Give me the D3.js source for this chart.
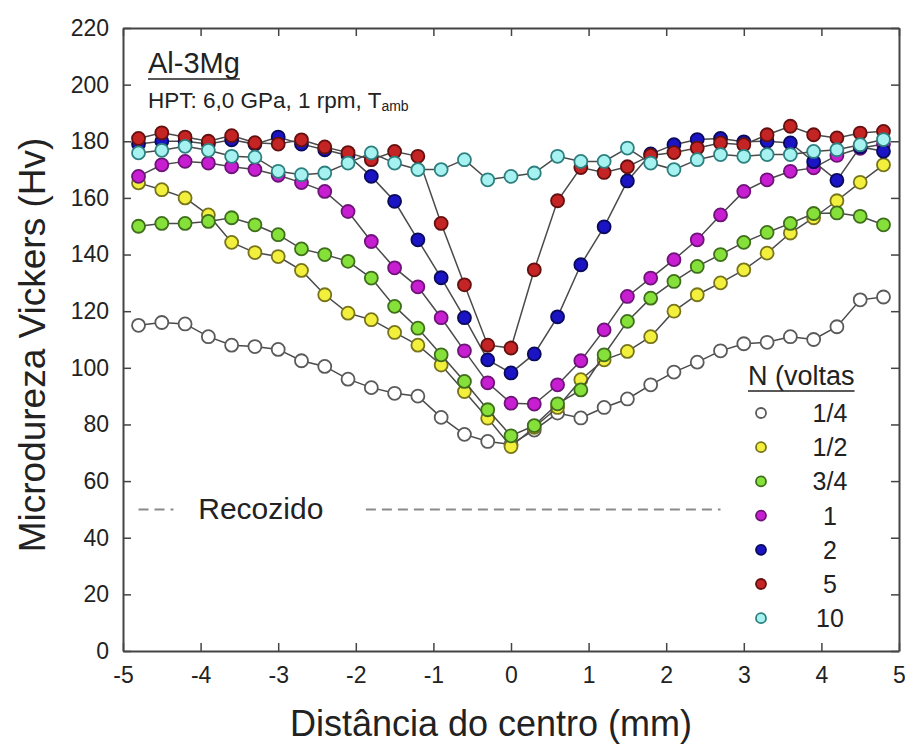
<!DOCTYPE html>
<html>
<head>
<meta charset="utf-8">
<script src="https://cdn.jsdelivr.net/npm/d3@7"></script>
<style>
  body { margin: 0; background: #fff; }
  text { font-family: "Liberation Sans", Arial, sans-serif; fill: #222; }
</style>
</head>
<body>
<div class="chart"></div>
<script>
// distances (mm) where hardness was measured
var distances = [-4.8, -4.5, -4.2, -3.9, -3.6, -3.3, -3.0, -2.7, -2.4, -2.1, -1.8, -1.5, -1.2, -0.9, -0.6, -0.3,
  0, 0.3, 0.6, 0.9, 1.2, 1.5, 1.8, 2.1, 2.4, 2.7, 3.0, 3.3, 3.6, 3.9, 4.2, 4.5, 4.8];

var hv_1_4 = [115, 116, 115.5, 111, 108, 107.5, 106.5, 102.5, 100.5, 96, 93, 91, 90, 82.5, 76.5, 74,
  73, 78, 84, 82.3, 86, 89, 94, 98.5, 102, 106, 108.5, 109, 111, 110, 114.5, 124, 125];
var hv_1_2 = [165.3, 162.9, 160, 154, 144.3, 140.7, 139.3, 134.4, 125.8, 119.3, 117, 112.5, 108, 101, 91.6, 82.2,
  72.2, 79, 86, 95.8, 102.8, 105.8, 111, 120, 125.8, 130, 134.6, 140.5, 147.6, 153, 159, 165.5, 171.7];
var hv_3_4 = [150, 151, 151, 151.7, 153, 150.5, 147, 142, 140, 137.6, 131.7, 121.7, 114, 104.6, 95.2, 85.2,
  76, 79.6, 87.3, 92.2, 104.6, 116.4, 124.6, 130.5, 135.8, 140, 144.3, 147.8, 151, 154.5, 154.7, 153.5, 150.5];
var hv_1 = [167.6, 171.7, 172.9, 172.3, 171, 170, 168, 165.4, 162.3, 155.2, 144.6, 135.3, 128.6, 117.7, 106, 94.7,
  87.5, 87.2, 94, 102.5, 113.4, 125.2, 131.7, 138.2, 145.2, 154, 162.3, 166.4, 169.4, 170.6, 175, 177.5, 179];
var hv_2 = [179, 180, 180, 179, 180.5, 179, 181.5, 179, 177, 175, 167.6, 158.8, 145.2, 131.8, 117.7, 102.8,
  98.2, 104.9, 118, 136.4, 149.8, 166, 175.5, 178.8, 180.6, 181, 179.8, 180, 179.4, 172.8, 166.2, 178, 176.5];
var hv_5 = [181, 183, 181.5, 180, 182, 179.5, 179, 180.5, 178, 176, 173.5, 176.4, 174.7, 151, 129.3, 108,
  107, 134.6, 159, 170.7, 169, 171, 175, 176, 177.6, 179.4, 178.8, 182.3, 185.3, 182.3, 181.2, 182.9, 183.5];
var hv_10 = [175.9, 176.8, 178.2, 176.8, 174.7, 174.4, 169.4, 168.2, 168.8, 172.3, 175.9, 172.3, 170, 170, 173.5, 166.4,
  167.6, 168.8, 174.7, 172.9, 172.9, 177.6, 172.3, 170, 173.5, 175.3, 174.7, 175.3, 175.3, 176.4, 177, 178.8, 180.6];

var turnLabels = ["1/4", "1/2", "3/4", "1", "2", "5", "10"];
var fillColors = ["#ffffff", "#f2f03c", "#86e03a", "#c81ed2", "#1a14c4", "#c42424", "#a6f2f0"];
var edgeColors = ["#5a5a5a", "#77741c", "#3f6e1c", "#6e1478", "#0a0a5c", "#641010", "#2e8080"];
var annealed = 50;

var xTicks = [-5, -4, -3, -2, -1, 0, 1, 2, 3, 4, 5];
var yTicks = [0, 20, 40, 60, 80, 100, 120, 140, 160, 180, 200, 220];

var allSeries = [hv_1_4, hv_1_2, hv_3_4, hv_1, hv_2, hv_5, hv_10];

var svgWidth = 905;
var svgHeight = 751;
var margin = { top: 28, right: 6, bottom: 100, left: 123 };
var width = svgWidth - margin.left - margin.right;
var height = svgHeight - margin.top - margin.bottom;

var svg = d3.select(".chart")
  .append("svg")
  .attr("width", svgWidth)
  .attr("height", svgHeight);

var chart = svg.append("g")
  .attr("transform", "translate(" + margin.left + "," + margin.top + ")");

var xScale = d3.scaleLinear().domain([-5, 5]).range([0, width]);
var yScale = d3.scaleLinear().domain([0, 220]).range([height, 0]);

// plain hyphen for negatives, like the original
var plain = function(d) { return String(d); };

// axes with inward ticks on all four sides
var tickLen = 8;
chart.append("g")
  .attr("transform", "translate(0," + height + ")")
  .call(d3.axisBottom(xScale).tickValues(xTicks).tickFormat(plain).tickSizeInner(-tickLen).tickSizeOuter(0).tickPadding(16))
  .call(function(g) { g.selectAll("text").attr("font-size", "23px"); });
chart.append("g")
  .call(d3.axisTop(xScale).tickValues(xTicks).tickSizeInner(-tickLen).tickSizeOuter(0).tickFormat(""));
chart.append("g")
  .call(d3.axisLeft(yScale).tickValues(yTicks).tickFormat(plain).tickSizeInner(-tickLen).tickSizeOuter(0).tickPadding(14))
  .call(function(g) { g.selectAll("text").attr("font-size", "23px"); });
chart.append("g")
  .attr("transform", "translate(" + width + ",0)")
  .call(d3.axisRight(yScale).tickValues(yTicks).tickSizeInner(-tickLen).tickSizeOuter(0).tickFormat(""));

chart.selectAll(".domain").attr("stroke", "#444").attr("stroke-width", 2);
chart.selectAll(".tick line").attr("stroke", "#444").attr("stroke-width", 1.5);
chart.selectAll(".tick text").attr("fill", "#222").attr("font-family", "Liberation Sans, Arial, sans-serif");

// annealed reference line
chart.append("line")
  .attr("x1", xScale(-4.8)).attr("x2", xScale(-4.35))
  .attr("y1", yScale(annealed)).attr("y2", yScale(annealed))
  .attr("stroke", "#8a8a8a").attr("stroke-width", 2).attr("stroke-dasharray", "10,6");
chart.append("line")
  .attr("x1", xScale(-1.87)).attr("x2", xScale(2.7))
  .attr("y1", yScale(annealed)).attr("y2", yScale(annealed))
  .attr("stroke", "#8a8a8a").attr("stroke-width", 2).attr("stroke-dasharray", "10,6");
chart.append("text")
  .attr("x", xScale(-4.03)).attr("y", yScale(annealed) + 10)
  .attr("font-size", "30px")
  .text("Recozido");

var line = d3.line()
  .x(function(d, i) { return xScale(distances[i]); })
  .y(function(d) { return yScale(d); });

allSeries.forEach(function(values, s) {
  var g = chart.append("g");
  g.append("path")
    .datum(values)
    .attr("d", line)
    .attr("fill", "none")
    .attr("stroke", "#4a4a4a")
    .attr("stroke-width", 1.5);
  g.selectAll("circle")
    .data(values)
    .enter()
    .append("circle")
    .attr("cx", function(d, i) { return xScale(distances[i]); })
    .attr("cy", function(d) { return yScale(d); })
    .attr("r", 6.5)
    .attr("fill", fillColors[s])
    .attr("stroke", edgeColors[s])
    .attr("stroke-width", 1.8);
});

// annotation
var alloy = chart.append("text").attr("x", 25).attr("y", 45).attr("font-size", "29px").text("Al-3Mg");
chart.append("line").attr("x1", 25).attr("x2", 25 + alloy.node().getComputedTextLength()).attr("y1", 51).attr("y2", 51)
  .attr("stroke", "#222").attr("stroke-width", 1.5);
var hpt = chart.append("text").attr("x", 25).attr("y", 80).attr("font-size", "22.5px");
hpt.append("tspan").text("HPT: 6,0 GPa, 1 rpm, T");
hpt.append("tspan").attr("font-size", "14px").attr("dy", 3).text("amb");

// legend
var legend = chart.append("g").attr("transform", "translate(" + (748 - margin.left) + "," + (357 - margin.top) + ")");
var ltitle = legend.append("text").attr("x", 0).attr("y", 28).attr("font-size", "27px").text("N (voltas");
legend.append("line").attr("x1", 0).attr("x2", ltitle.node().getComputedTextLength()).attr("y1", 34).attr("y2", 34)
  .attr("stroke", "#222").attr("stroke-width", 1.5);
turnLabels.forEach(function(lbl, i) {
  var cy = 56 + i * 34.2;
  legend.append("circle")
    .attr("cx", 13).attr("cy", cy).attr("r", 5)
    .attr("fill", fillColors[i]).attr("stroke", edgeColors[i]).attr("stroke-width", 1.8);
  legend.append("text")
    .attr("x", 82).attr("y", cy + 9)
    .attr("text-anchor", "middle")
    .attr("font-size", "25px")
    .text(lbl);
});

// axis titles
svg.append("text")
  .attr("transform", "translate(45,345) rotate(-90)")
  .attr("text-anchor", "middle")
  .attr("font-size", "37px")
  .text("Microdureza Vickers (Hv)");
svg.append("text")
  .attr("x", 491)
  .attr("y", 736)
  .attr("text-anchor", "middle")
  .attr("font-size", "36px")
  .text("Distância do centro (mm)");
</script>
</body>
</html>
